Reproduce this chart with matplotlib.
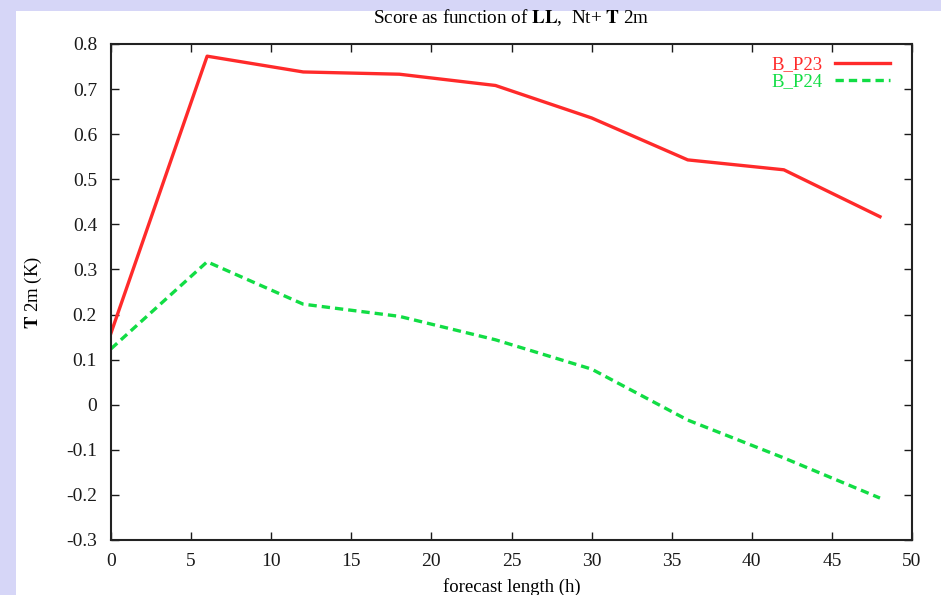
import matplotlib
matplotlib.use('Agg')
import matplotlib.pyplot as plt
from matplotlib.patches import Rectangle

# forecast length (h) and scores for each experiment
hours = [0, 6, 12, 18, 24, 30, 36, 42, 48]
b_p23 = [0.159, 0.773, 0.738, 0.733, 0.708, 0.636, 0.543, 0.521, 0.417]
b_p24 = [0.124, 0.317, 0.223, 0.196, 0.144, 0.079, -0.034, -0.118, -0.207]

xticks = [0, 5, 10, 15, 20, 25, 30, 35, 40, 45, 50]
yticks = [-0.3, -0.2, -0.1, 0, 0.1, 0.2, 0.3, 0.4, 0.5, 0.6, 0.7, 0.8]

plt.rcParams['font.family'] = ['Liberation Serif', 'DejaVu Serif']

W, H = 941, 595
fig = plt.figure(figsize=(W / 100, H / 100), dpi=100)
fig.patch.set_facecolor('white')

# lavender frame at the top and left of the screenshot
lav = '#d6d6f7'
fig.patches.append(Rectangle((0, 0), 16 / W, 1, transform=fig.transFigure,
                             facecolor=lav, edgecolor='none', zorder=-1))
fig.patches.append(Rectangle((0, 1 - 11 / H), 1, 11 / H, transform=fig.transFigure,
                             facecolor=lav, edgecolor='none', zorder=-1))

ax = fig.add_axes([111 / W, 1 - 540 / H, (912 - 111) / W, (540 - 44) / H])

ax.plot(hours, b_p23, color='#ff2a2a', lw=2.4, label='B_P23')
ax.plot(hours, b_p24, color='#11dd44', lw=2.4, ls=(0, (2.5, 1.5)), label='B_P24')

ax.set_xlim(0, 50)
ax.set_ylim(-0.3, 0.8)
ax.set_xticks(xticks)
ax.set_yticks(yticks)
ax.set_xticklabels([str(t) for t in xticks])
ax.set_yticklabels(['0' if t == 0 else f'{t:.1f}' for t in yticks])
ax.tick_params(direction='in', length=6, width=1, top=True, right=True,
               labelsize=14, colors='#1a1a1a')
ax.tick_params(axis='y', pad=10)
ax.tick_params(axis='x', pad=9)
for s in ax.spines.values():
    s.set_linewidth(1.5)
    s.set_color('#222222')

ax.set_xlabel('forecast length (h)', fontsize=13.5, labelpad=6)
ax.set_ylabel(r'$\mathbf{T}$ 2m (K)', fontsize=13.5, labelpad=16)
ax.yaxis.label.set_math_fontfamily('stix')

fig.text(0.543, 1 - 18 / H, r'Score as function of $\mathbf{LL}$,  Nt+ $\mathbf{T}$ 2m',
         ha='center', va='center', fontsize=13.8, math_fontfamily='stix')

leg = ax.legend(loc='upper right', frameon=False, markerfirst=False,
                labelcolor='linecolor', fontsize=13.5, handlelength=2.9,
                handletextpad=0.7, labelspacing=0.0, borderaxespad=0.35,
                borderpad=0.3, bbox_to_anchor=(1 - 10 / 801, 1))

fig.savefig('out.png', dpi=100)
